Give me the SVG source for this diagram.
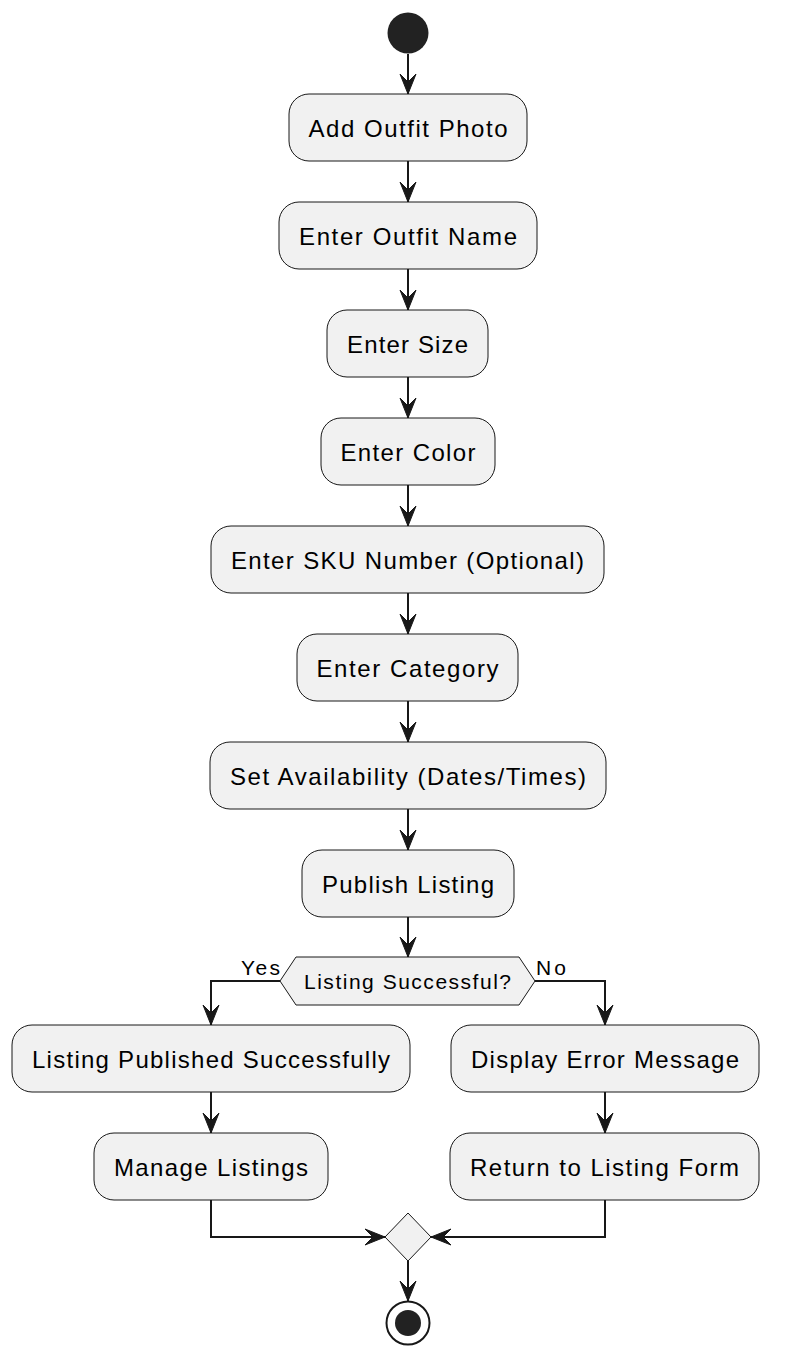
<svg xmlns="http://www.w3.org/2000/svg" width="788" height="1361" viewBox="0 0 788 1361">
<defs>
<style>
.box{fill:#F1F1F1;stroke:#181818;stroke-width:1}
.t{font-family:"Liberation Sans",Arial,sans-serif;font-size:24px;fill:#000;text-anchor:middle}
.s{font-family:"Liberation Sans",Arial,sans-serif;font-size:21px;fill:#000}
.c{fill:none;stroke:#181818;stroke-width:2;marker-end:url(#ah)}
</style>
<marker id="ah" markerUnits="userSpaceOnUse" orient="auto" refX="0" refY="0" markerWidth="30" markerHeight="30" overflow="visible">
<path d="M0,0 L-20,-8 L-12,0 L-20,8 Z" fill="#181818" stroke="#181818" stroke-width="1"/>
</marker>
</defs>
<rect width="788" height="1361" fill="#FFFFFF"/>
<g id="start"><circle cx="408" cy="33" r="20.5" fill="#222222"/></g>
<g id="n1"><rect class="box" x="289" y="94" width="238" height="67" rx="20"/><text class="t" x="408" y="136.5" textLength="199" lengthAdjust="spacing">Add Outfit Photo</text></g>
<g id="n2"><rect class="box" x="279" y="202" width="258" height="67" rx="20"/><text class="t" x="408" y="244.5" textLength="218" lengthAdjust="spacing">Enter Outfit Name</text></g>
<g id="n3"><rect class="box" x="327" y="310" width="161" height="67" rx="20"/><text class="t" x="407.5" y="352.5" textLength="121" lengthAdjust="spacing">Enter Size</text></g>
<g id="n4"><rect class="box" x="321" y="418" width="174" height="67" rx="20"/><text class="t" x="408" y="460.5" textLength="135" lengthAdjust="spacing">Enter Color</text></g>
<g id="n5"><rect class="box" x="211" y="526" width="393" height="67" rx="20"/><text class="t" x="407.5" y="568.5" textLength="353" lengthAdjust="spacing">Enter SKU Number (Optional)</text></g>
<g id="n6"><rect class="box" x="297" y="634" width="221" height="67" rx="20"/><text class="t" x="407.5" y="676.5" textLength="182" lengthAdjust="spacing">Enter Category</text></g>
<g id="n7"><rect class="box" x="210" y="742" width="396" height="67" rx="20"/><text class="t" x="408" y="784.5" textLength="356" lengthAdjust="spacing">Set Availability (Dates/Times)</text></g>
<g id="n8"><rect class="box" x="302" y="850" width="212" height="67" rx="20"/><text class="t" x="408" y="892.5" textLength="172" lengthAdjust="spacing">Publish Listing</text></g>
<g id="decision"><polygon class="box" points="280,981 296,957 519,957 535,981 519,1005 296,1005"/><text class="s" x="407.5" y="988.5" text-anchor="middle" textLength="207" lengthAdjust="spacing">Listing Successful?</text></g>
<g id="n9"><rect class="box" x="12" y="1025" width="398" height="67" rx="20"/><text class="t" x="211" y="1067.5" textLength="358" lengthAdjust="spacing">Listing Published Successfully</text></g>
<g id="n10"><rect class="box" x="94" y="1133" width="234" height="67" rx="20"/><text class="t" x="211" y="1175.5" textLength="194" lengthAdjust="spacing">Manage Listings</text></g>
<g id="n11"><rect class="box" x="451" y="1025" width="308" height="67" rx="20"/><text class="t" x="605" y="1067.5" textLength="268" lengthAdjust="spacing">Display Error Message</text></g>
<g id="n12"><rect class="box" x="450" y="1133" width="309" height="67" rx="20"/><text class="t" x="604.5" y="1175.5" textLength="269" lengthAdjust="spacing">Return to Listing Form</text></g>
<g id="merge"><polygon class="box" points="408,1213 431,1237 408,1261 385,1237"/></g>
<g id="end"><circle cx="408" cy="1323" r="21.5" fill="none" stroke="#181818" stroke-width="2"/><circle cx="408" cy="1323" r="13" fill="#222222"/></g>
<g id="connectors">
<line class="c" x1="408" y1="54" x2="408" y2="94"/>
<line class="c" x1="408" y1="161" x2="408" y2="202"/>
<line class="c" x1="408" y1="269" x2="408" y2="310"/>
<line class="c" x1="408" y1="377" x2="408" y2="418"/>
<line class="c" x1="408" y1="485" x2="408" y2="526"/>
<line class="c" x1="408" y1="593" x2="408" y2="634"/>
<line class="c" x1="408" y1="701" x2="408" y2="742"/>
<line class="c" x1="408" y1="809" x2="408" y2="850"/>
<line class="c" x1="408" y1="917" x2="408" y2="957"/>
<polyline class="c" points="280,981 211,981 211,1025"/>
<polyline class="c" points="535,981 605,981 605,1025"/>
<line class="c" x1="211" y1="1092" x2="211" y2="1133"/>
<line class="c" x1="605" y1="1092" x2="605" y2="1133"/>
<polyline class="c" points="211,1200 211,1237 385,1237"/>
<polyline class="c" points="605,1200 605,1237 431,1237"/>
<line class="c" x1="408" y1="1261" x2="408" y2="1301"/>
<text class="s" x="241" y="975" textLength="39" lengthAdjust="spacing">Yes</text>
<text class="s" x="536" y="975" textLength="30" lengthAdjust="spacing">No</text>
</g>
</svg>
